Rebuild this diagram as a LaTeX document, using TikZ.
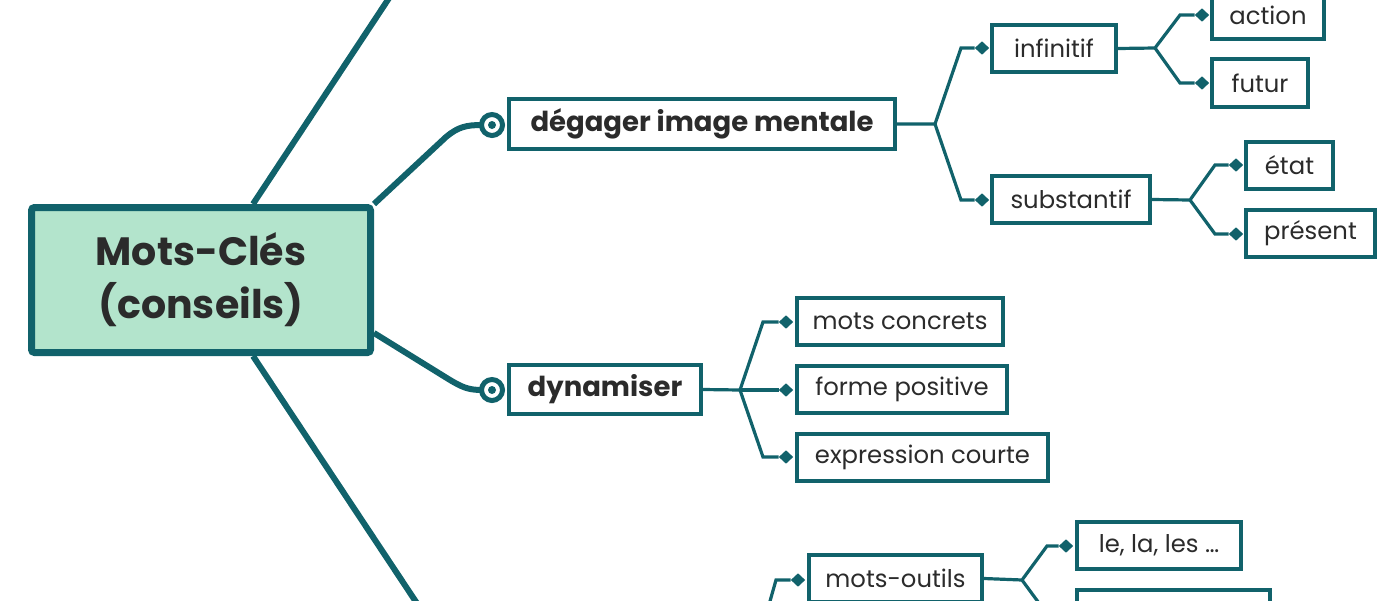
\documentclass[tikz,border=0pt]{standalone}
\usepackage{fontspec}
\setmainfont{Poppins}
\usetikzlibrary{shapes.geometric,calc}
\definecolor{mmteal}{HTML}{11626B}
\definecolor{mmmint}{HTML}{B3E4CC}
\definecolor{mmtext}{HTML}{2B2B2B}
\begin{document}
\begin{tikzpicture}[x=1pt,y=-1pt,
  box/.style={draw=mmteal, line width=3.6pt, fill=white, inner sep=0pt, minimum height=47.5pt, text=mmtext, font=\fontsize{24.3}{29}\selectfont},
  bbox/.style={box, minimum height=49.5pt, font=\fontsize{27.5}{32}\selectfont\bfseries},
  root/.style={draw=mmteal, line width=7pt, fill=mmmint, rounded corners=3pt, minimum width=339pt, minimum height=145pt, align=center, text=mmtext, font=\fontsize{39.5}{53}\selectfont\bfseries},
  dia/.style={diamond, fill=mmteal, inner sep=0pt, minimum width=14.5pt, minimum height=13.5pt},
  conn/.style={draw=mmteal, line width=3.2pt},
  mainline/.style={draw=mmteal, line width=6pt},
  ring/.style={circle, draw=mmteal, line width=5pt, fill=white, minimum size=21pt, inner sep=0pt}
]
\useasboundingbox (0,0) rectangle (1400,600);
\clip (0,0) rectangle (1400,600);

% level 0/1 nodes
\node[root] (root) at (201,280) {Mots-Clés\\(conseils)};
\node[bbox, minimum width=386.5pt] (deg) at (702,124) {dégager image mentale};
\node[bbox, minimum width=192.5pt] (dyn) at (605,389.5) {dynamiser};
\coordinate (offtop) at (401,-20);
\coordinate (offbot) at (428,620);

\draw[mainline] ($(root.north)+(52,0)$) -- (offtop);
\draw[mainline] ($(root.south)+(52,0)$) -- (offbot);
\draw[mainline] (root.north east) -- (446,137) .. controls (458,127) and (466,125) .. (482,125);
\draw[mainline] ($(root.east)+(0,53)$) -- (450,380) .. controls (462,387) and (468,390) .. (482,390);
\node[ring] (r1) at (492,125) {};
\node[ring] (r2) at (492,390) {};
\fill[mmteal] (r1.center) circle (4pt);
\fill[mmteal] (r2.center) circle (4pt);

% dégager branch
\node[box, minimum width=124.5pt] (inf) at (1054,48.5) {infinitif};
\node[box, minimum width=158.5pt] (sub) at (1071,199.5) {substantif};
\node[dia] (dinf) at (982,48) {};
\node[dia] (dsub) at (982,200) {};
\coordinate (j1) at (935,124);
\draw[conn] (deg.east) -- (j1) -- ($(dinf)+(-21,0)$) -- (dinf);
\draw[conn] (j1) -- ($(dsub)+(-21,0)$) -- (dsub);

% infinitif branch
\node[box, minimum width=112.5pt] (act) at (1268,15) {action};
\node[box, minimum width=96.5pt] (fut) at (1260,83) {futur};
\node[dia] (dact) at (1202,15) {};
\node[dia] (dfut) at (1202,83) {};
\coordinate (j2) at (1155,48);
\draw[conn] (inf.east) -- (j2) -- ($(dact)+(-22,0)$) -- (dact);
\draw[conn] (j2) -- ($(dfut)+(-22,0)$) -- (dfut);

% substantif branch
\node[box, minimum width=87.5pt] (eta) at (1289.5,165.5) {état};
\node[box, minimum width=129.5pt] (pre) at (1310.5,233.5) {présent};
\node[dia] (deta) at (1236,165) {};
\node[dia] (dpre) at (1236,234) {};
\coordinate (j3) at (1190,200);
\draw[conn] (sub.east) -- (j3) -- ($(deta)+(-21,0)$) -- (deta);
\draw[conn] (j3) -- ($(dpre)+(-21,0)$) -- (dpre);

% dynamiser branch
\node[box, minimum width=206.5pt] (mc) at (900,321.5) {mots concrets};
\node[box, minimum width=210.5pt] (fp) at (902,389.5) {forme positive};
\node[box, minimum width=251.5pt] (ec) at (922.5,457.5) {expression courte};
\node[dia] (dmc) at (786,322) {};
\node[dia] (dfp) at (786,390) {};
\node[dia] (dec) at (786,457) {};
\coordinate (j4) at (740,390);
\draw[conn] (dyn.east) -- (j4) -- ($(dmc)+(-23,0)$) -- (dmc);
\draw[conn] (j4) -- (dfp);
\draw[conn] (j4) -- ($(dec)+(-23,0)$) -- (dec);

% mots-outils branch (partly outside the frame)
\node[box, minimum width=173.5pt] (mo) at (895.5,578.5) {mots-outils};
\node[box, minimum width=164.5pt] (lla) at (1159,545.5) {le, la, les …};
\node[box, minimum width=193.5pt] (nx) at (1173.5,613.5) {};
\node[dia] (dmo) at (798,580) {};
\node[dia] (dlla) at (1066,546) {};
\node[dia] (dnx) at (1066,614) {};
\coordinate (pmo) at (759,640);
\coordinate (j5) at (1022,580);
\draw[conn] (pmo) -- ($(dmo)+(-22,0)$) -- (dmo);
\draw[conn] (mo.east) -- (j5) -- ($(dlla)+(-19,0)$) -- (dlla);
\draw[conn] (j5) -- ($(dnx)+(-19,0)$) -- (dnx);
\end{tikzpicture}
\end{document}
